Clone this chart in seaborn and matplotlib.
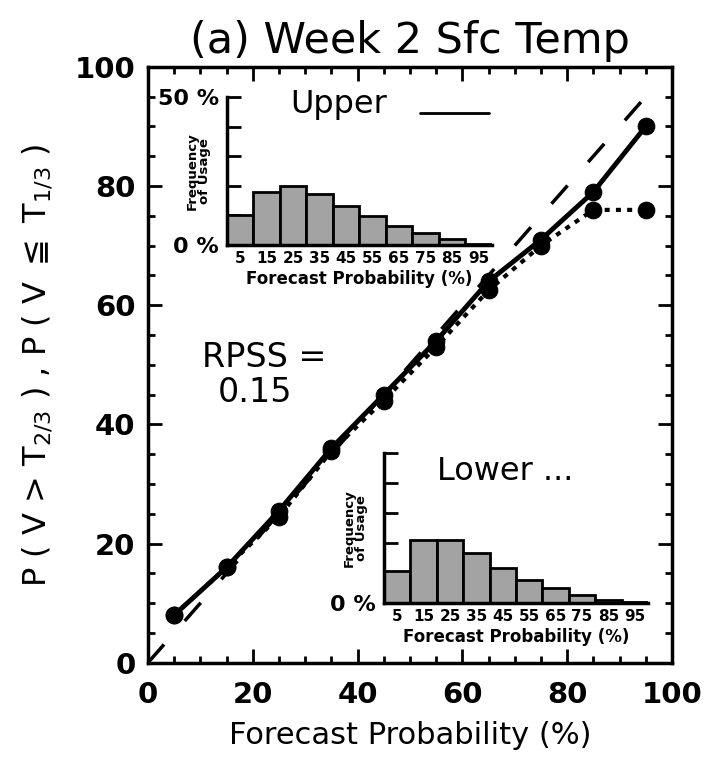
import matplotlib
matplotlib.use("Agg")
import matplotlib.pyplot as plt
from matplotlib.ticker import MultipleLocator
import seaborn as sns
import pandas as pd

# reliability curves (forecast probability bin centres, observed frequency %)
fcst_prob = [5, 15, 25, 35, 45, 55, 65, 75, 85, 95]
upper_obs = [8, 16, 25.5, 36, 45, 54, 64, 71, 79, 90]
lower_obs = [8, 16, 24.5, 35.5, 44, 53, 62.5, 70, 76, 76]
diag = [0, 97]

# frequency of usage histograms (%)
bin_labels = ["5", "15", "25", "35", "45", "55", "65", "75", "85", "95"]
upper_usage = [10, 18, 19.8, 17.4, 13.1, 9.8, 6.4, 3.9, 2.0, 0.5]
lower_usage = [10.7, 20.9, 20.9, 16.7, 11.8, 7.6, 5.0, 2.8, 1.1, 0.3]
usage_ticks = [0, 10, 20, 30, 40, 50]

title = "(a) Week 2 Sfc Temp"
rpss = "0.15"

sns.set_style("ticks")
plt.rcParams["font.family"] = ["DejaVu Sans"]
plt.rcParams["mathtext.fontset"] = "dejavusans"
for k in ["text.color", "axes.labelcolor", "xtick.color", "ytick.color",
          "axes.edgecolor"]:
    plt.rcParams[k] = "black"

fig = plt.figure(figsize=(7.08, 7.6), dpi=100)
ax = fig.add_axes([0.209, 0.128, 0.740, 0.784])

sns.lineplot(x=diag, y=diag, ax=ax, color="black", lw=2.5,
             linestyle=(0, (7, 9)))
sns.lineplot(x=fcst_prob, y=lower_obs, ax=ax, color="black", lw=3,
             linestyle=(0, (1.2, 1.5)), marker="o", markersize=12,
             markeredgecolor="black")
sns.lineplot(x=fcst_prob, y=upper_obs, ax=ax, color="black", lw=3.5,
             marker="o", markersize=12, markeredgecolor="black")

ax.set_xlim(0, 100)
ax.set_ylim(0, 100)
ax.xaxis.set_major_locator(MultipleLocator(20))
ax.yaxis.set_major_locator(MultipleLocator(20))
ax.xaxis.set_minor_locator(MultipleLocator(5))
ax.yaxis.set_minor_locator(MultipleLocator(5))
ax.tick_params(which="both", direction="in", top=True, right=True, width=2)
ax.tick_params(which="major", length=10, labelsize=21)
ax.tick_params(which="minor", length=5)
ax.tick_params(axis="x", pad=13)
ax.tick_params(axis="y", pad=9)
for lab in ax.get_xticklabels() + ax.get_yticklabels():
    lab.set_fontweight("bold")
for sp in ax.spines.values():
    sp.set_linewidth(2.5)

ax.set_title(title, fontsize=31, pad=10)
ax.set_xlabel("Forecast Probability (%)", fontsize=22, labelpad=9)
ax.set_ylabel(r"P ( V > T$_{2/3}$ ) , P ( V $\leqq$ T$_{1/3}$ )", fontsize=23)
ax.yaxis.set_label_coords(-0.18, 0.5)

ax.text(10.3, 49.7, "RPSS =", fontsize=24, ha="left", va="baseline")
ax.text(13.3, 43.8, rpss, fontsize=24, ha="left", va="baseline")

# legend-like labels
ax.text(27.1, 92.3, "Upper", fontsize=23, ha="left", va="baseline", zorder=5)
ax.plot([52, 65], [92.3, 92.3], color="black", lw=2, zorder=5)
ax.text(55.2, 30.7, "Lower ...", fontsize=23, ha="left", va="baseline")


def usage_inset(rect, values, top_label):
    ins = fig.add_axes(rect)
    df = pd.DataFrame({"bin": bin_labels, "freq": values})
    sns.barplot(data=df, x="bin", y="freq", ax=ins, color="#a3a3a3",
                saturation=1, edgecolor="black", linewidth=2, width=1.0)
    ins.set_xlim(-0.5, 9.5)
    ins.set_ylim(0, 50)
    ins.set_yticks(usage_ticks)
    ins.set_yticklabels(["0 %", "", "", "", "", top_label])
    ins.tick_params(axis="y", direction="in", length=10, width=2,
                    labelsize=16, pad=6)
    ins.tick_params(axis="x", length=0, labelsize=11, pad=4)
    for lab in ins.get_xticklabels() + ins.get_yticklabels():
        lab.set_fontweight("bold")
    ins.set_xlabel("Forecast Probability (%)", fontsize=12,
                   fontweight="bold", labelpad=3)
    ins.set_ylabel("Frequency\nof Usage", fontsize=9.5, fontweight="bold",
                   linespacing=0.9)
    ins.yaxis.set_label_coords(-0.06, 0.5)
    ins.patch.set_alpha(0)
    for s in ["top", "right"]:
        ins.spines[s].set_visible(False)
    for s in ["left", "bottom"]:
        ins.spines[s].set_linewidth(2.5)
    return ins


usage_inset([0.3206, 0.6776, 0.374, 0.1947], upper_usage, "50 %")
usage_inset([0.5424, 0.2066, 0.373, 0.1974], lower_usage, "")

fig.savefig("out.png", dpi=100)
